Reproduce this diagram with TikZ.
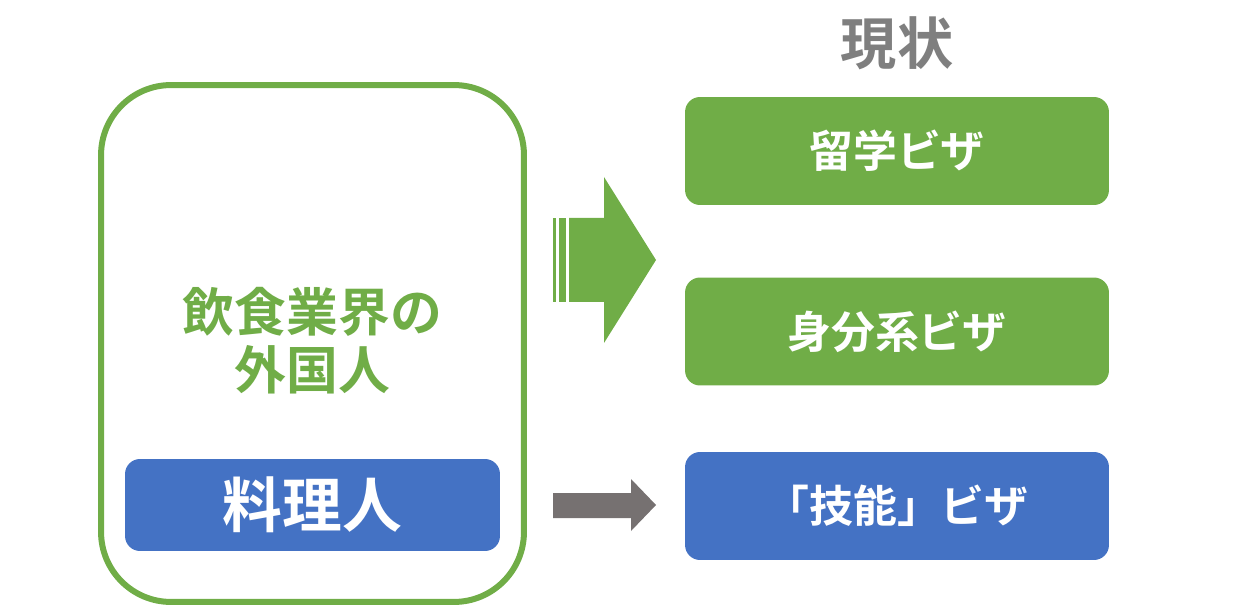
\documentclass[tikz,border=0pt]{standalone}
\usepackage{fontspec}
\newfontfamily\jpfont{Noto Sans CJK JP}[BoldFont={Noto Sans CJK JP Bold}]
\definecolor{visagreen}{HTML}{70AD47}
\definecolor{visablue}{HTML}{4472C4}
\definecolor{arrowgray}{HTML}{767171}
\definecolor{titlegray}{HTML}{7F7F7F}
\tikzset{
  visabox/.style={rounded corners=0.3cm,minimum width=8.48cm,minimum height=2.16cm,
    text=white,font=\jpfont\bfseries\fontsize{25}{30}\selectfont},
}
\begin{document}
\begin{tikzpicture}
    [x=0.02cm,y=-0.02cm,inner sep=0pt]

    \useasboundingbox (0,0) rectangle (1260,614);

    % left group:
    \node (group) at (312.5,343.5) [draw=visagreen,line width=0.12cm,rounded corners=1.4cm,
      minimum width=8.46cm,minimum height=10.34cm] {};
    \node (foreign) at (312.5,341) [align=center,text=visagreen,
      font=\jpfont\bfseries\fontsize{29.5}{33}\selectfont] {飲食業界の\\外国人};
    \node (cook) at (312.5,505) [fill=visablue,rounded corners=0.3cm,minimum width=7.5cm,
      minimum height=1.84cm,text=white,font=\jpfont\bfseries\fontsize{34}{40}\selectfont] {料理人};

    % right column:
    \node (title) at (897,43) [text=titlegray,font=\jpfont\bfseries\fontsize{32}{38}\selectfont] {現状};
    \node (study) at (897,151) [visabox,fill=visagreen] {留学ビザ};
    \node (status) at (897,331.5) [visabox,fill=visagreen] {身分系ビザ};
    \node (skill) at (897,506) [visabox,fill=visablue] {「技能」ビザ};

    % arrows:
    \fill [visagreen] (553,218) rectangle (556,302);
    \fill [visagreen] (559,218) rectangle (566,302);
    \fill [visagreen] (569,218) -- (604,218) -- (604,177) -- (656,260)
      -- (604,343) -- (604,302) -- (569,302) -- cycle;
    \fill [arrowgray] (553,493) -- (631,493) -- (631,479) -- (656,505)
      -- (631,531) -- (631,518) -- (553,518) -- cycle;

  \end{tikzpicture}
\end{document}
